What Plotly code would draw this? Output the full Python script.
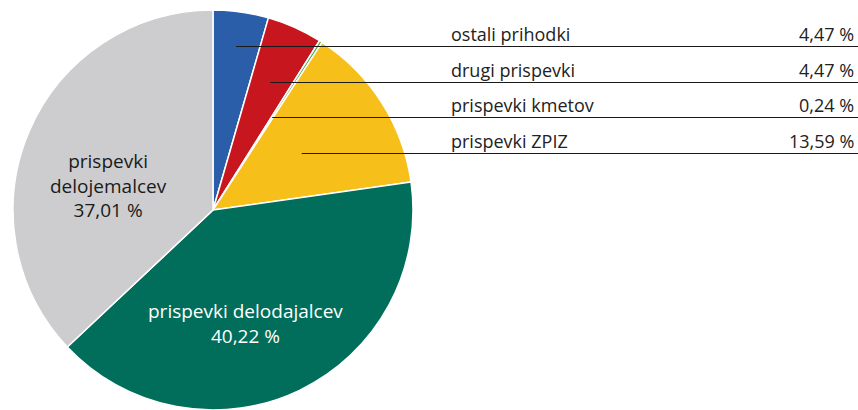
import math
import plotly.graph_objects as go

# Revenue structure, share of total (%)
categories = ["ostali prihodki", "drugi prispevki", "prispevki kmetov",
              "prispevki ZPIZ", "prispevki delodajalcev", "prispevki delojemalcev"]
shares = [4.47, 4.47, 0.24, 13.59, 40.22, 37.01]
share_labels = ["4,47 %", "4,47 %", "0,24 %", "13,59 %", "40,22 %", "37,01 %"]
colors = ["#2a5ea8", "#c8161e", "#4fb244", "#f6bf19", "#006e5a", "#cdcdcf"]

W, H = 858, 410
CX, CY, R = 213, 210, 200          # pie centre and radius in pixels
ROW_Y = [46.5, 82.5, 117.5, 153.5]  # table rule lines (one per small slice)
TEXT_X, VALUE_X = 449, 856
FONT = "Open Sans"

fig = go.Figure()
fig.add_trace(go.Pie(
    labels=categories, values=shares, sort=False, direction="clockwise",
    rotation=0, marker=dict(colors=colors, line=dict(color="white", width=1.5)),
    textinfo="none", hoverinfo="label+percent", showlegend=False,
    domain=dict(x=[(CX - R) / W, (CX + R) / W],
                y=[max(0, (H - CY - R) / H), min(1, (H - CY + R) / H)]),
))

# hidden pixel-scaled axes for leader lines and labels
fig.update_layout(
    xaxis=dict(range=[0, W], visible=False, fixedrange=True),
    yaxis=dict(range=[H, 0], visible=False, fixedrange=True),
)

total = sum(shares)
cum = 0.0
shapes, annotations = [], []
for i, v in enumerate(shares):
    start, end = cum / total * 360, (cum + v) / total * 360
    cum += v
    if i < 4:
        mid = math.radians((start + end) / 2)
        y = ROW_Y[i]
        x0 = CX + (CY - y) * math.tan(mid)
        shapes.append(dict(type="line", xref="x", yref="y", x0=x0, x1=W,
                           y0=y, y1=y, line=dict(color="#1a1a1a", width=1)))
        annotations.append(dict(x=TEXT_X, y=y - 13, xref="x", yref="y",
                                text=categories[i], showarrow=False,
                                xanchor="left", yanchor="middle",
                                font=dict(family=FONT, size=18, color="#222")))
        annotations.append(dict(x=VALUE_X, y=y - 13, xref="x", yref="y",
                                text=share_labels[i], showarrow=False,
                                xanchor="right", yanchor="middle",
                                font=dict(family=FONT, size=18, color="#222")))

# labels inside the two large slices
for txt, x, y, col in [
    ("prispevki<br>delojemalcev<br>" + share_labels[5], 108, 185, "#1a1a1a"),
    ("prispevki delodajalcev<br>" + share_labels[4], 245, 323, "white"),
]:
    annotations.append(dict(x=x, y=y, xref="x", yref="y", text=txt,
                            showarrow=False, xanchor="center", yanchor="middle",
                            font=dict(family=FONT, size=19, color=col)))

fig.update_layout(
    width=W, height=H, margin=dict(l=0, r=0, t=0, b=0),
    paper_bgcolor="white", plot_bgcolor="rgba(0,0,0,0)",
    shapes=shapes, annotations=annotations,
)
fig.write_html("out.html")
